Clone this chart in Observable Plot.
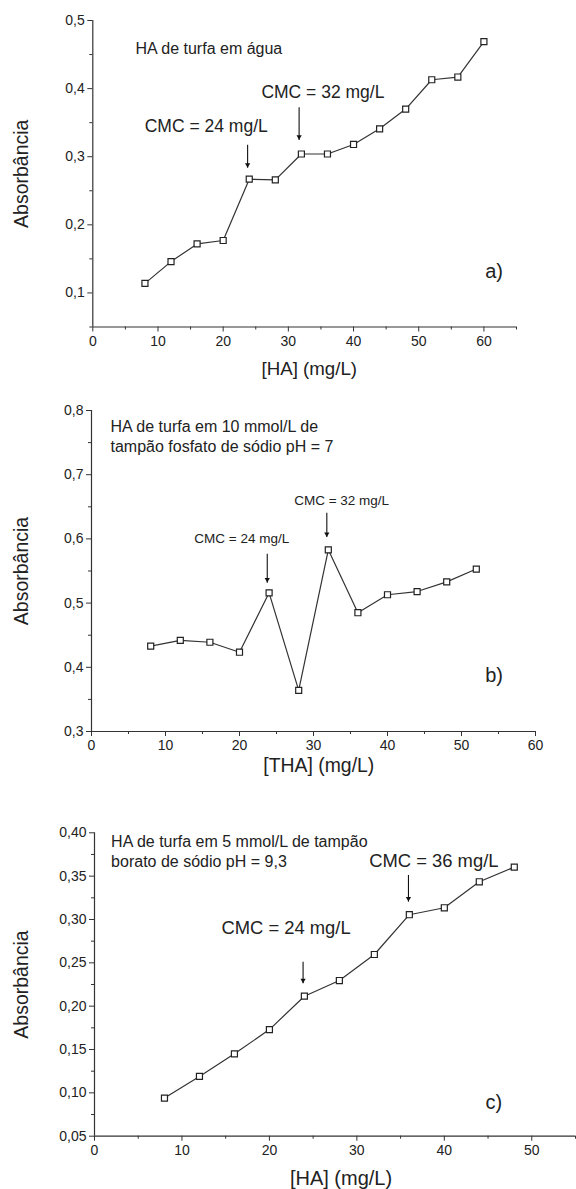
<!DOCTYPE html>
<html><head><meta charset="utf-8">
<script src="https://cdn.jsdelivr.net/npm/d3@7"></script>
<script src="https://cdn.jsdelivr.net/npm/@observablehq/plot@0.6"></script>
<style>
body{margin:0;background:#fff;width:576px;}
#chart svg{display:block;}
</style></head><body><div id="chart"></div>
<script>
// ---- data ----
const concA = [8,12,16,20,24,28,32,36,40,44,48,52,56,60];
const absA  = [0.114,0.146,0.172,0.177,0.267,0.266,0.304,0.304,0.318,0.341,0.370,0.413,0.417,0.469];
const concB = [8,12,16,20,24,28,32,36,40,44,48,52];
const absB  = [0.433,0.442,0.439,0.4235,0.516,0.364,0.583,0.485,0.513,0.518,0.533,0.553];
const concC = [8,12,16,20,24,28,32,36,40,44,48];
const absC  = [0.094,0.119,0.145,0.173,0.2115,0.2296,0.2596,0.3055,0.3135,0.3435,0.3604];

// ---- ticks ----
const xTicksA = [0,10,20,30,40,50,60];
const xMinorA = [5,15,25,35,45,55,65];
const yTicksA = [0.1,0.2,0.3,0.4,0.5];
const yMinorA = [0.05,0.15,0.25,0.35,0.45];
const xTicksB = [0,10,20,30,40,50,60];
const xMinorB = [5,15,25,35,45,55];
const yTicksB = [0.3,0.4,0.5,0.6,0.7,0.8];
const yMinorB = [0.35,0.45,0.55,0.65,0.75];
const xTicksC = [0,10,20,30,40,50];
const xMinorC = [5,15,25,35,45,55];
const yTicksC = [0.05,0.10,0.15,0.20,0.25,0.30,0.35,0.40];
const yMinorC = [0.075,0.125,0.175,0.225,0.275,0.325,0.375];

// ---- annotations ----
const notesA = [
  {x:6.55, y:0.458, t:"HA de turfa em água", s:16, a:"start"},
  {x:17.4, y:0.344, t:"CMC = 24 mg/L", s:17.5, a:"middle"},
  {x:35.3, y:0.395, t:"CMC = 32 mg/L", s:17.5, a:"middle"},
  {x:60.2, y:0.131, t:"a)", s:20, a:"start"}
];
const arrowsA = [{x:23.75, y1:0.317, y2:0.283}, {x:31.65, y1:0.372, y2:0.324}];
const notesB = [
  {x:2.57, y:0.775, t:"HA de turfa em 10 mmol/L de", s:16, a:"start"},
  {x:2.57, y:0.743, t:"tampão fosfato de sódio pH = 7", s:16, a:"start"},
  {x:20.3, y:0.601, t:"CMC = 24 mg/L", s:13.5, a:"middle"},
  {x:33.8, y:0.660, t:"CMC = 32 mg/L", s:13.5, a:"middle"},
  {x:53.2, y:0.387, t:"b)", s:20, a:"start"}
];
const arrowsB = [{x:23.75, y1:0.576, y2:0.531}, {x:31.8, y1:0.640, y2:0.602}];
const notesC = [
  {x:1.9, y:0.389, t:"HA de turfa em 5 mmol/L de tampão", s:16, a:"start"},
  {x:1.9, y:0.366, t:"borato de sódio pH = 9,3", s:16, a:"start"},
  {x:21.9, y:0.290, t:"CMC = 24 mg/L", s:18.4, a:"middle"},
  {x:38.8, y:0.367, t:"CMC = 36 mg/L", s:18.4, a:"middle"},
  {x:44.7, y:0.089, t:"c)", s:20, a:"start"}
];
const arrowsC = [{x:23.85, y1:0.2508, y2:0.2258}, {x:35.9, y1:0.3508, y2:0.320}];

const xLabels = ["[HA] (mg/L)", "[THA] (mg/L)", "[HA] (mg/L)"];
const yLabel = "Absorbância";

const FONT = "'Liberation Sans', Arial, Helvetica, sans-serif";
const INK = "#222";

function panel(cfg) {
  const data = cfg.xs.map((x, i) => ({x, y: cfg.ys[i]}));
  const fmt = d => d.toFixed(cfg.dec).replace(".", ",");
  return Plot.plot({
    width: 576, height: cfg.height,
    marginTop: cfg.mt, marginBottom: cfg.mb, marginLeft: cfg.ml, marginRight: cfg.mr,
    style: {fontFamily: FONT, fontSize: "14px", color: INK, background: "white"},
    x: {domain: cfg.xd},
    y: {domain: cfg.yd},
    marks: [
      Plot.axisX({ticks: cfg.xt, tickSize: 5, tickPadding: 4, fontSize: 14, label: null, tickFormat: d => String(d), stroke: "#333"}),
      Plot.axisX({ticks: cfg.xm, tickSize: 3, label: null, tickFormat: () => "", stroke: "#333"}),
      Plot.axisY({ticks: cfg.yt, tickSize: 5, tickPadding: 3, fontSize: 14, label: null, tickFormat: fmt, stroke: "#333"}),
      Plot.axisY({ticks: cfg.ym, tickSize: 3, label: null, tickFormat: () => "", stroke: "#333"}),
      Plot.ruleY([cfg.yd[0]], {stroke: "#333", strokeWidth: 1.2}),
      Plot.ruleX([cfg.xd[0]], {stroke: "#333", strokeWidth: 1.2}),
      Plot.line(data, {x: "x", y: "y", stroke: "#333", strokeWidth: 1.2}),
      Plot.dot(data, {x: "x", y: "y", symbol: "square", r: 3.4, fill: "white", stroke: "#222", strokeWidth: 1.2}),
      Plot.ruleX(cfg.arrows, {x: "x", y1: "y1", y2: "y2", stroke: "#111", strokeWidth: 1.1}),
      Plot.dot(cfg.arrows, {x: "x", y: "y2", symbol: "triangle2", rotate: 180, r: 2.5, fill: "#111", dy: -3.6}),
      Plot.text(cfg.notes, {filter: d => d.a === "start", x: "x", y: "y", text: "t", fontSize: "s", textAnchor: "start", fill: INK}),
      Plot.text(cfg.notes, {filter: d => d.a === "middle", x: "x", y: "y", text: "t", fontSize: "s", textAnchor: "middle", fill: INK}),
      Plot.text([cfg.xlabel], {frameAnchor: "bottom", text: d => d, dx: cfg.xldx, dy: cfg.xldy, fontSize: cfg.xls, fill: INK, lineAnchor: "middle"}),
      Plot.text([yLabel], {frameAnchor: "left", text: d => d, rotate: -90, dx: cfg.yldx, dy: 0, fontSize: 19.5, fill: INK, lineAnchor: "middle", textAnchor: "middle"})
    ]
  });
}

const root = document.getElementById("chart");
root.append(panel({
  xs: concA, ys: absA, height: 385, mt: 20, mb: 58.5, ml: 92.3, mr: 60,
  xd: [0, 65], yd: [0.05, 0.5], xt: xTicksA, xm: xMinorA, yt: yTicksA, ym: yMinorA, dec: 1,
  notes: notesA, arrows: arrowsA, xlabel: xLabels[0], xldx: 4.6, xldy: 41.8, xls: 18.7, yldx: -70.6
}));
root.append(panel({
  xs: concB, ys: absB, height: 400, mt: 25, mb: 54, ml: 91, mr: 41,
  xd: [0, 60], yd: [0.3, 0.8], xt: xTicksB, xm: xMinorB, yt: yTicksB, ym: yMinorB, dec: 1,
  notes: notesB, arrows: arrowsB, xlabel: xLabels[1], xldx: 5.3, xldy: 34.7, xls: 19.4, yldx: -69.3
}));
root.append(panel({
  xs: concC, ys: absC, height: 404, mt: 47.3, mb: 53.3, ml: 94, mr: 1,
  xd: [0, 55], yd: [0.05, 0.40], xt: xTicksC, xm: xMinorC, yt: yTicksC, ym: yMinorC, dec: 2,
  notes: notesC, arrows: arrowsC, xlabel: xLabels[2], xldx: 6, xldy: 42.3, xls: 20, yldx: -72.3
}));
</script></body></html>
